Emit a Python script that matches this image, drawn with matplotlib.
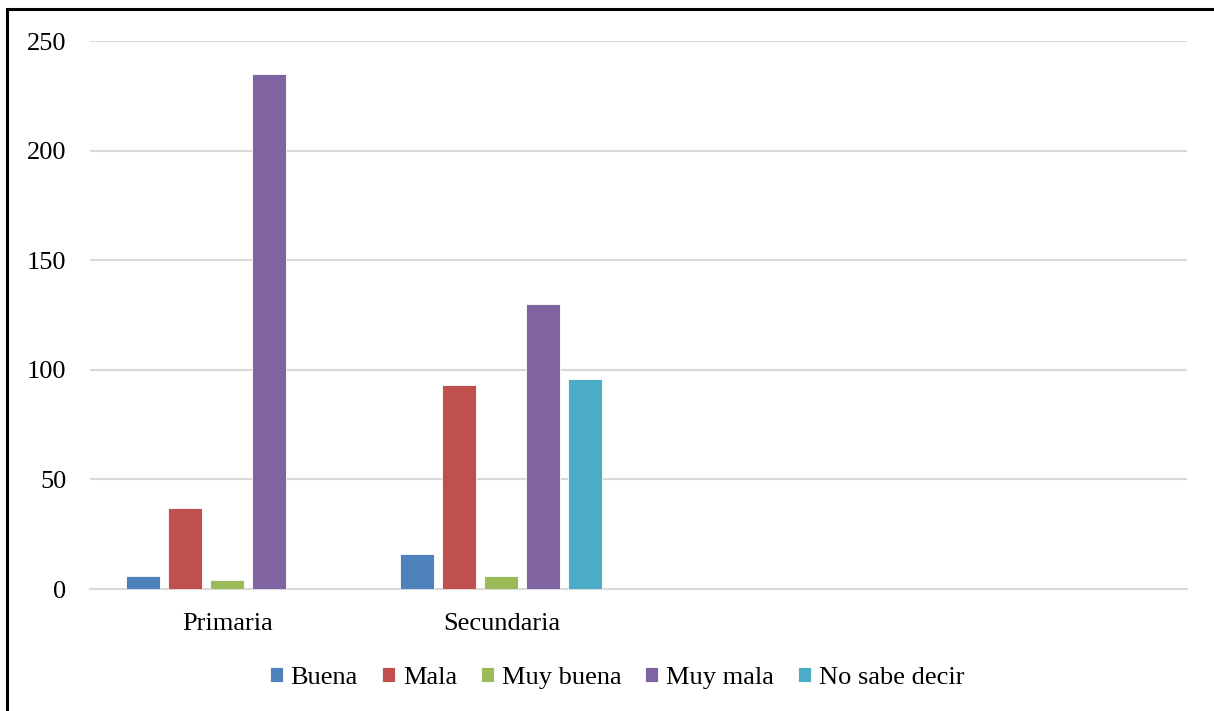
import matplotlib
matplotlib.use("Agg")
import matplotlib.pyplot as plt
from matplotlib.patches import Rectangle
import numpy as np

plt.rcParams['font.family'] = ['Liberation Serif', 'DejaVu Serif']

categories = ["Primaria", "Secundaria"]
series_names = ["Buena", "Mala", "Muy buena", "Muy mala", "No sabe decir"]
buena = [6, 16]
mala = [37, 93]
muy_buena = [4, 6]
muy_mala = [235, 130]
no_sabe_decir = [0, 96]
y_ticks = [0, 50, 100, 150, 200, 250]

series_values = [buena, mala, muy_buena, muy_mala, no_sabe_decir]
colors = ["#4F81BD", "#C0504D", "#9BBB59", "#8064A2", "#4BACC6"]

W, H = 1214, 711
fs = 19
fig = plt.figure(figsize=(W / 100, H / 100), dpi=100)
ax = fig.add_axes([90 / W, (H - 589) / H, (1187 - 90) / W, (589 - 41) / H])

x = np.arange(len(categories))
step = 0.153
width = 0.124
n = len(series_names)
for i, (name, vals, c) in enumerate(zip(series_names, series_values, colors)):
    offs = (i - (n - 1) / 2) * step
    ax.bar(x + offs, vals, width=width, color=c, label=name,
           edgecolor="white", linewidth=0.6, zorder=3)

ax.set_xlim(-0.5, 3.5)
ax.set_ylim(0, 250)
ax.set_yticks(y_ticks)
ax.set_xticks(x)
ax.set_xticklabels(categories)
ax.tick_params(axis="both", length=0, labelsize=fs, colors="black")
ax.tick_params(axis="y", pad=17)
ax.tick_params(axis="x", pad=17.5)
ax.yaxis.grid(True, color="#D9D9D9", linewidth=1.5, zorder=0)
ax.set_axisbelow(True)
for s in ["top", "right", "left"]:
    ax.spines[s].set_visible(False)
ax.spines["bottom"].set_color("#D9D9D9")
ax.spines["bottom"].set_linewidth(1.5)

handles, labels = ax.get_legend_handles_labels()
leg = fig.legend(handles, labels, loc="center", bbox_to_anchor=(617 / W, (H - 678) / H),
                 ncol=5, frameon=False, fontsize=fs, handlelength=0.5, handleheight=0.5,
                 handletextpad=0.3, columnspacing=0.9)

# outer frame of the chart
fig.patches.append(Rectangle((7 / W, -0.1), 1.2, 1 - 9 / H + 0.1, transform=fig.transFigure,
                             fill=False, edgecolor="black", linewidth=2.2, zorder=10))

fig.savefig("out.png", dpi=100)
